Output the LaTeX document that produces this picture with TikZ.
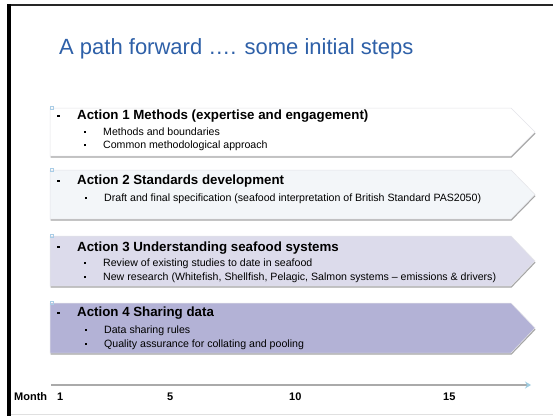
\documentclass[tikz,border=0pt]{standalone}
\usepackage{fontspec}
\setmainfont{Liberation Sans}
\usetikzlibrary{arrows.meta}

\definecolor{titleblue}{RGB}{46,96,168}
\definecolor{bandone}{RGB}{255,255,255}
\definecolor{bandtwo}{RGB}{243,246,249}
\definecolor{bandthree}{RGB}{220,219,235}
\definecolor{bandfour}{RGB}{179,178,214}
\definecolor{bandshadow}{RGB}{165,165,165}
\definecolor{bandedge}{RGB}{228,228,232}
\definecolor{handleblue}{RGB}{170,205,230}
\definecolor{axisgray}{RGB}{170,170,170}
\definecolor{arrowblue}{RGB}{160,205,225}

% bullets hanging to the left of each line of text
\newcommand\hdbullet{\llap{\rule[3pt]{2.5pt}{2pt}\hspace{17.5pt}}}
\newcommand\subbullet{\llap{\rule[2.5pt]{2pt}{2pt}\hspace{17pt}}}

% one action band: top edge, height, fill colour
\newcommand\actionband[3]{%
  \fill[bandshadow] (50.5,#1+1.6) -- (511.5,#1+1.6) -- (535.5,#1+#2/2+1.6)
        -- (511.5,#1+#2+1.6) -- (50.5,#1+#2+1.6) -- cycle;
  \filldraw[fill=#3, draw=bandedge, line width=0.5pt]
        (50,#1) -- (511,#1) -- (535,#1+#2/2) -- (511,#1+#2) -- (50,#1+#2) -- cycle;
  \draw[handleblue, line width=0.5pt] (50.5,#1-1.5) rectangle (53,#1+1);
}

\begin{document}
\begin{tikzpicture}[x=1pt,y=-1pt,
  title/.style={anchor=base west, inner sep=0pt, text=titleblue,
                font=\fontsize{22}{26}\selectfont},
  head/.style={anchor=base west, inner sep=0pt,
               font=\bfseries\fontsize{13.3}{15}\selectfont},
  sub/.style={anchor=base west, inner sep=0pt,
              font=\fontsize{10.6}{12}\selectfont},
  tick/.style={anchor=base west, inner sep=0pt,
               font=\bfseries\fontsize{11}{13}\selectfont},
  timeline/.style={draw=axisgray, line width=2pt,
                   -{Stealth[length=6pt,width=7pt,color=arrowblue]}}]
\useasboundingbox (0,0) rectangle (553,416);
\fill[white] (0,0) rectangle (553,416);

% slide frame
\draw[black!85, line width=2pt] (7,5) -- (553,5);
\draw[black, line width=3.5pt] (9,4) -- (9,416);
\draw[black!12, line width=1pt] (11,414.5) -- (553,414.5);

% title
\node[title] (ttl) at (59,54) {A path forward …. some initial steps};

% action bands
\actionband{108}{48}{bandone}
\actionband{170}{49}{bandtwo}
\actionband{236}{50}{bandthree}
\actionband{303}{50}{bandfour}

% Action 1
\node[head] (a1h) at (77,119.5) {\hdbullet Action 1 Methods (expertise and engagement)};
\node[sub] (a1s1) at (103,135) {\subbullet Methods and boundaries};
\node[sub] (a1s2) at (103,148.5) {\subbullet Common methodological approach};

% Action 2
\node[head] (a2h) at (77,184.5) {\hdbullet Action 2 Standards development};
\node[sub] (a2s1) at (104,201.5) {\subbullet Draft and final specification (seafood interpretation of British Standard PAS2050)};

% Action 3
\node[head] (a3h) at (77,251) {\hdbullet Action 3 Understanding seafood systems};
\node[sub] (a3s1) at (103,266) {\subbullet Review of existing studies to date in seafood};
\node[sub] (a3s2) at (103,280.5) {\subbullet New research (Whitefish, Shellfish, Pelagic, Salmon systems – emissions \& drivers)};

% Action 4
\node[head] (a4h) at (77,316.5) {\hdbullet Action 4 Sharing data};
\node[sub] (a4s1) at (104,333) {\subbullet Data sharing rules};
\node[sub] (a4s2) at (104,347) {\subbullet Quality assurance for collating and pooling};

% time axis
\coordinate (t0) at (51,385);
\coordinate (t1) at (531,385);
\draw[timeline] (t0) -- (t1);
\node[tick] (mlab) at (14,400) {Month};
\node[tick] (m1) at (57,400) {1};
\node[tick] (m5) at (167,400) {5};
\node[tick] (m10) at (289,400) {10};
\node[tick] (m15) at (443,400) {15};
\end{tikzpicture}
\end{document}
